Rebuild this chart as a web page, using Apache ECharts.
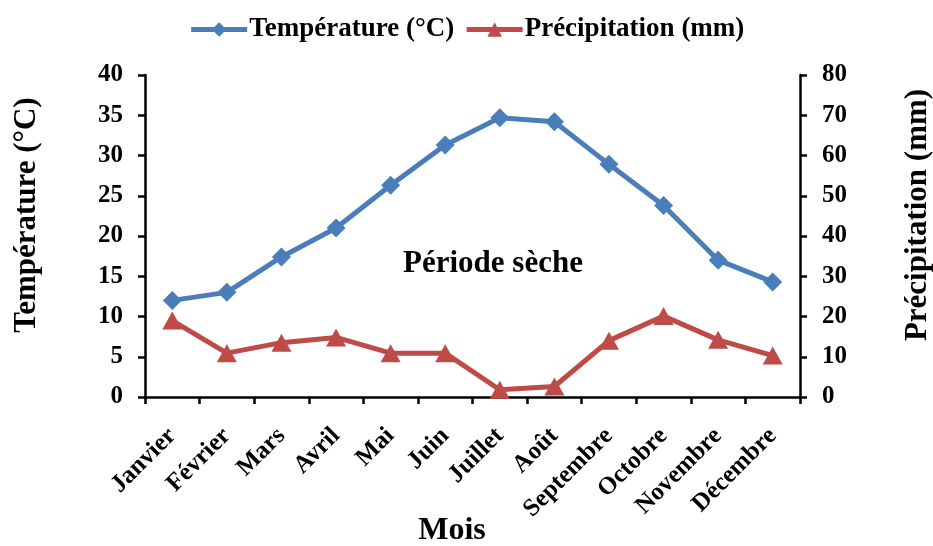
<!DOCTYPE html>
<html><head><meta charset="utf-8">
<script src="https://cdn.jsdelivr.net/npm/echarts@6/dist/echarts.min.js"></script>
<style>html,body{margin:0;padding:0;background:#fff}#c{width:933px;height:546px}</style>
</head><body><div id="c"></div>
<script>
const months = ['Janvier','Février','Mars','Avril','Mai','Juin','Juillet','Août','Septembre','Octobre','Novembre','Décembre'];
const temperature = [12.0, 13.0, 17.4, 21.0, 26.3, 31.3, 34.7, 34.2, 28.9, 23.8, 17.0, 14.3];
const precipitation = [19.0, 10.9, 13.5, 14.8, 10.9, 10.9, 1.8, 2.6, 14.0, 20.1, 14.2, 10.3];
const tempTicks = [0, 40, 5];
const precTicks = [0, 80, 10];
const FONT = '"Liberation Serif", "Times New Roman", serif';
const BLUE = '#4A7EBB', RED = '#BE4B48';
const chart = echarts.init(document.getElementById('c'));
const axisCommon = {
  axisLine: {show: true, lineStyle: {color: '#000', width: 2.5}},
  axisTick: {show: true, inside: false, length: 7, lineStyle: {color: '#000', width: 2.5}},
  splitLine: {show: false},
  axisLabel: {color: '#000', fontFamily: FONT, fontWeight: 'bold', fontSize: 25, margin: 22}
};
chart.setOption({
  animation: false,
  textStyle: {fontFamily: FONT},
  legend: {
    top: 11, left: 'center', itemWidth: 56, itemHeight: 18, itemGap: 10,
    lineStyle: {width: 5},
    textStyle: {color: '#000', fontFamily: FONT, fontWeight: 'bold', fontSize: 27, padding: [0, 0, 0, -3]}
  },
  grid: {left: 145, right: 133, top: 75, bottom: 149, outerBoundsMode: 'none', containLabel: false},
  xAxis: {
    type: 'category', data: months, boundaryGap: true,
    ...axisCommon,
    axisTick: {show: true, length: 7, lineStyle: {color: '#000', width: 2.5}},
    axisLabel: {...axisCommon.axisLabel, rotate: 45, margin: 35, interval: 0}
  },
  yAxis: [
    {type: 'value', min: tempTicks[0], max: tempTicks[1], interval: tempTicks[2], ...axisCommon},
    {type: 'value', min: precTicks[0], max: precTicks[1], interval: precTicks[2], ...axisCommon}
  ],
  series: [
    {name: 'Température (°C)', type: 'line', yAxisIndex: 0, data: temperature,
     symbol: 'diamond', symbolSize: 19,
     lineStyle: {color: BLUE, width: 5}, itemStyle: {color: BLUE}},
    {name: 'Précipitation (mm)', type: 'line', yAxisIndex: 1, data: precipitation,
     symbol: 'triangle', symbolSize: [20, 18],
     lineStyle: {color: RED, width: 5}, itemStyle: {color: RED}}
  ],
  graphic: [
    {type: 'text', x: 493, y: 264,
     style: {text: 'Période sèche', fill: '#000', font: 'bold 31px ' + FONT, align: 'center', verticalAlign: 'middle'}},
    {type: 'text', x: 27, y: 215, rotation: Math.PI / 2,
     style: {text: 'Température (°C)', fill: '#000', font: 'bold 31px ' + FONT, align: 'center', verticalAlign: 'middle'}},
    {type: 'text', x: 918, y: 215, rotation: Math.PI / 2,
     style: {text: 'Précipitation (mm)', fill: '#000', font: 'bold 31px ' + FONT, align: 'center', verticalAlign: 'middle'}},
    {type: 'text', x: 452, y: 531,
     style: {text: 'Mois', fill: '#000', font: 'bold 32px ' + FONT, align: 'center', verticalAlign: 'middle'}}
  ]
});
</script></body></html>
